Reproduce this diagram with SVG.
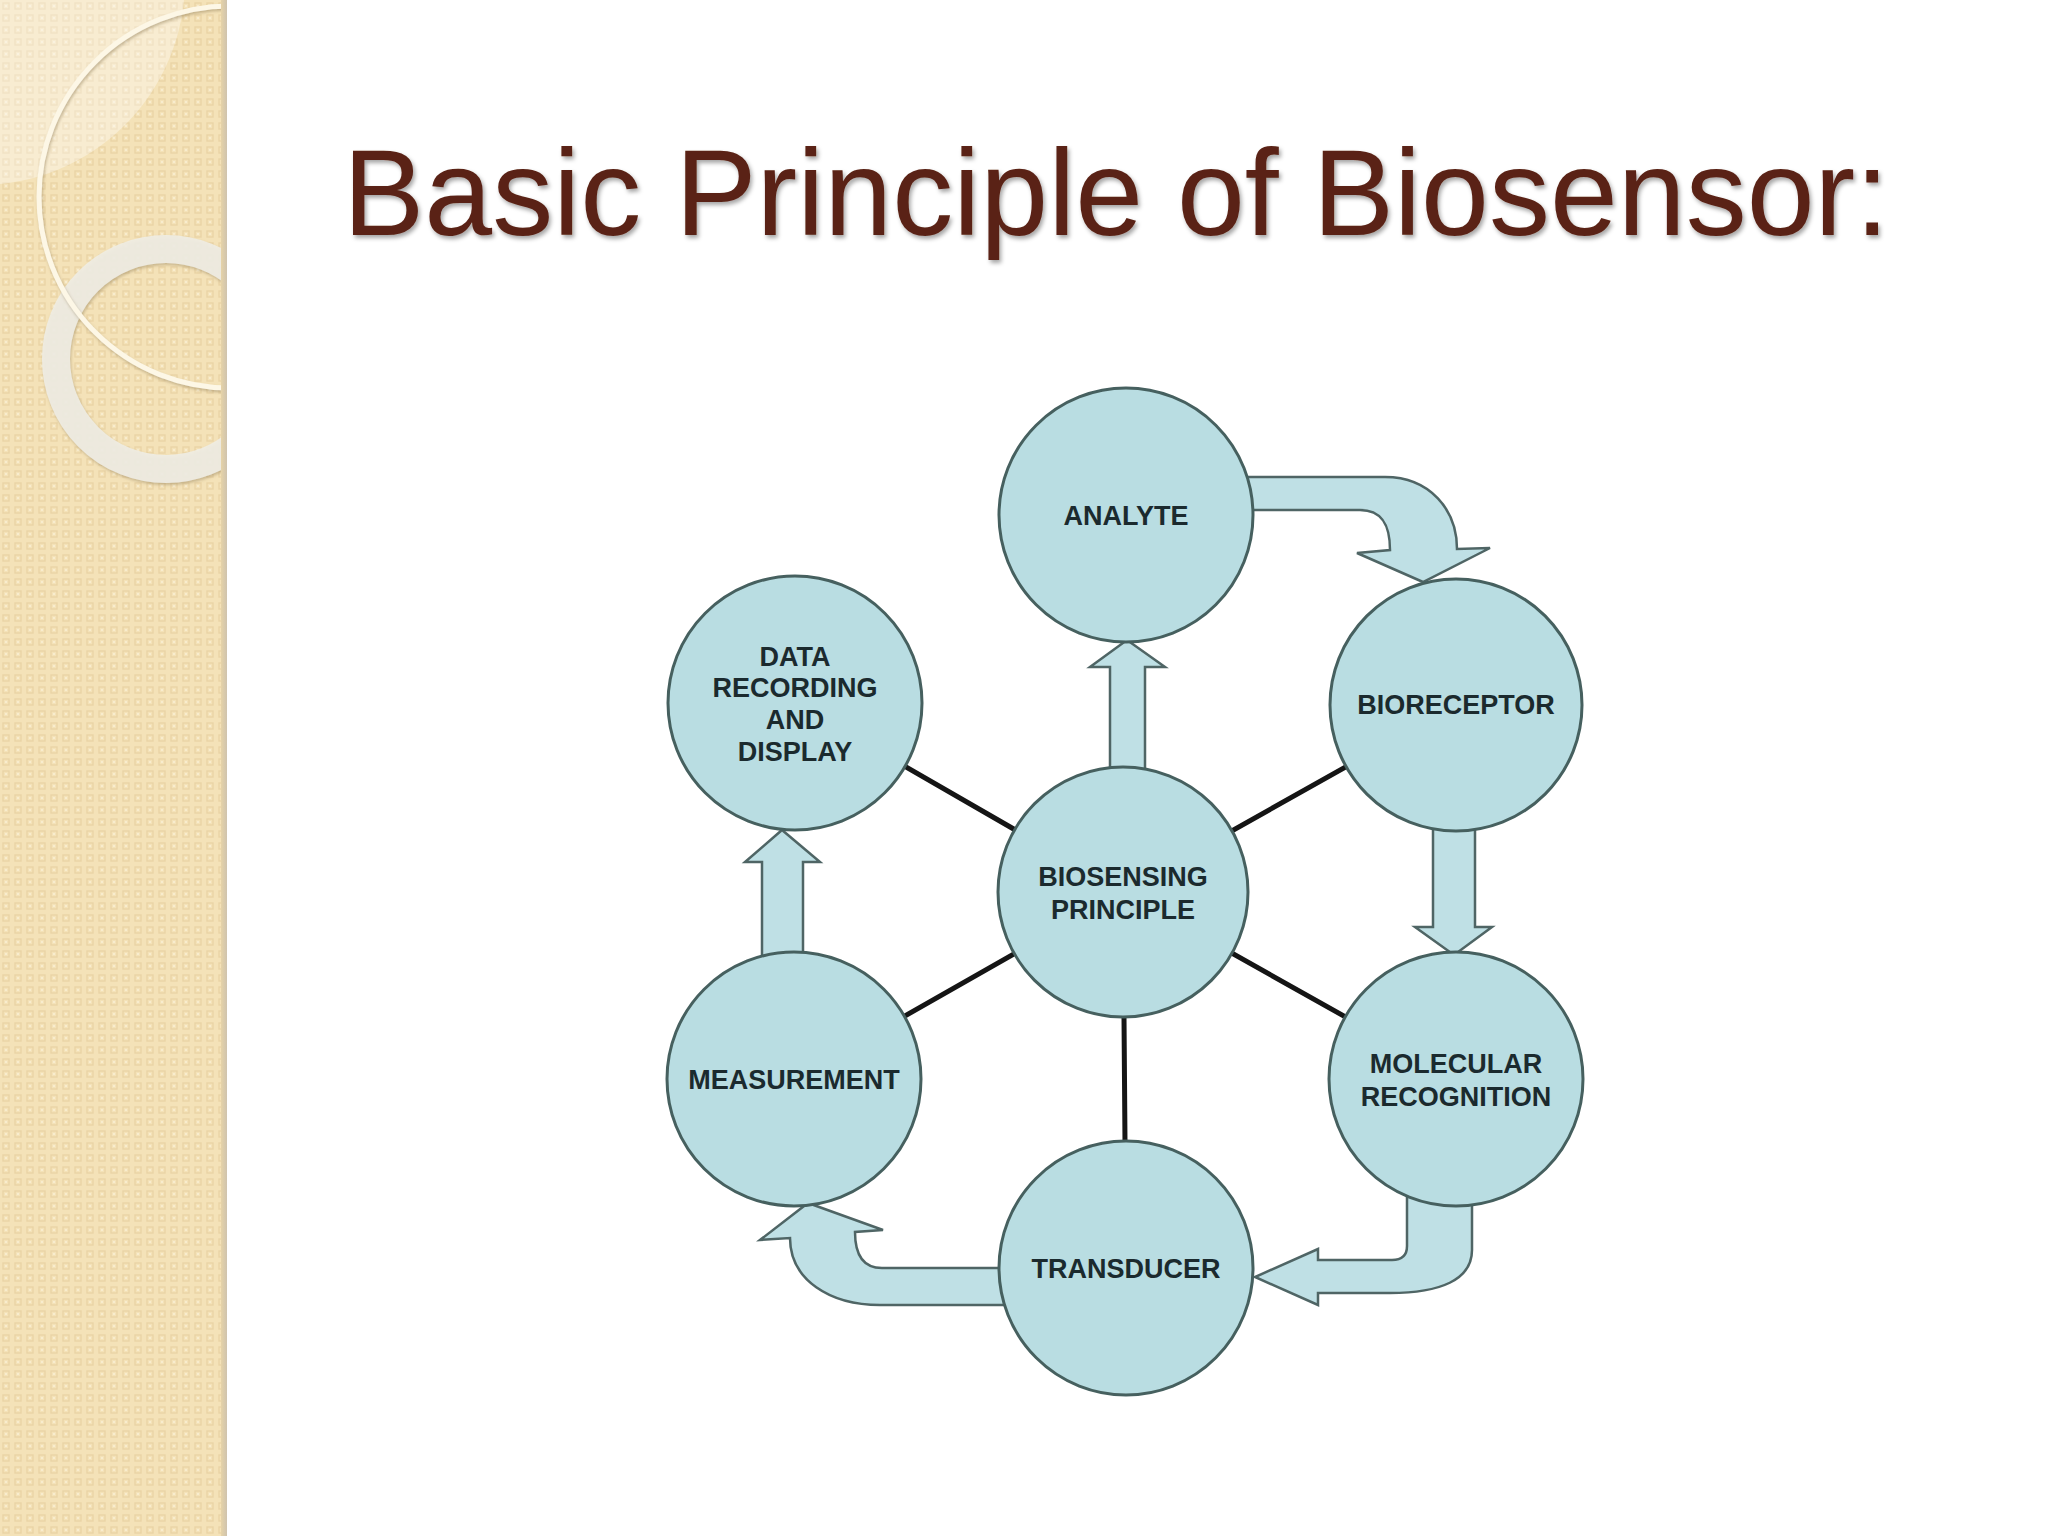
<svg xmlns="http://www.w3.org/2000/svg" width="2048" height="1536" viewBox="0 0 2048 1536">
<defs>
<style>
.node circle{fill:#b9dde2;stroke:#46605f;stroke-width:3}
.node text{font-family:"Liberation Sans",Arial,sans-serif;font-weight:bold;font-size:27px;fill:#1b2a2e;text-anchor:middle}
.spoke{stroke:#151515;stroke-width:5;stroke-linecap:round}
.arrow{fill:#bfe0e5;stroke:#4f6565;stroke-width:2.5;stroke-linejoin:miter}
.title{font-family:"Liberation Sans",Arial,sans-serif;font-size:122px;fill:#5a2416}
</style>
<pattern id="dots" width="12" height="12" patternUnits="userSpaceOnUse">
<rect width="12" height="12" fill="#f4e2b8"/>
<rect x="3" y="3" width="6" height="6" fill="none" stroke="#eAd4a6" stroke-width="1.4"/>
<rect x="5" y="5" width="2" height="2" fill="#f8ecce"/>
</pattern>
<clipPath id="side"><rect x="0" y="0" width="225" height="1536"/></clipPath>
<linearGradient id="edge" x1="0" x2="1" y1="0" y2="0">
<stop offset="0" stop-color="#e6d3a8"/>
<stop offset="1" stop-color="#cfc3ad"/>
</linearGradient>
<filter id="shadow" x="-5%" y="-20%" width="110%" height="150%">
<feDropShadow dx="2" dy="3" stdDeviation="2" flood-color="#000" flood-opacity="0.35"/>
</filter>
<filter id="soft" x="-10%" y="-10%" width="120%" height="120%">
<feDropShadow dx="1" dy="2" stdDeviation="1.5" flood-color="#8a7750" flood-opacity="0.45"/>
</filter>
</defs>
<rect width="2048" height="1536" fill="#ffffff"/>
<g id="sidebar">
<rect x="0" y="0" width="226" height="1536" fill="url(#dots)"/>
<g clip-path="url(#side)">
<circle cx="-20" cy="-20" r="205" fill="#ffffff" fill-opacity="0.35"/>
<circle cx="166" cy="359" r="110" fill="none" stroke="#f0ede4" stroke-opacity="0.9" stroke-width="28" filter="url(#soft)"/>
<circle cx="230" cy="197" r="191" fill="none" stroke="#fdf7e6" stroke-width="5" filter="url(#soft)"/>
</g>
<rect x="221" y="0" width="6" height="1536" fill="url(#edge)"/>
</g>
<g id="title">
<text class="title" x="343" y="235" filter="url(#shadow)">Basic Principle of Biosensor:</text>
</g>
<g id="connectors">
<line class="spoke" x1="1123" y1="892" x2="795" y2="703"/>
<line class="spoke" x1="1123" y1="892" x2="1456" y2="705"/>
<line class="spoke" x1="1123" y1="892" x2="794" y2="1079"/>
<line class="spoke" x1="1123" y1="892" x2="1456" y2="1079"/>
<line class="spoke" x1="1123" y1="892" x2="1126" y2="1268"/>
<path class="arrow" d="M1110,772 L1110,667 L1090,667 L1127,640 L1165,667 L1145,667 L1145,772 Z"/>
<path class="arrow" d="M1240,477 L1385,477 C1430,477 1457,510 1457,549 L1490,548 L1423,582 L1357,553 L1390,550 C1390,525 1382,510 1360,510 L1240,510 Z"/>
<path class="arrow" d="M1433,825 L1433,927 L1415,927 L1454,955 L1492,927 L1475,927 L1475,825 Z"/>
<path class="arrow" d="M1407,1188 L1407,1246 C1407,1255 1402,1260 1392,1260 L1318,1260 L1318,1249 L1255,1277 L1318,1305 L1318,1293 L1390,1293 C1440,1293 1472,1280 1472,1250 L1472,1188 Z"/>
<path class="arrow" d="M1012,1268 L882,1268 C863,1268 855,1255 855,1232 L883,1230 L808,1203 L760,1240 L790,1238 C790,1280 830,1305 880,1305 L1012,1305 Z"/>
<path class="arrow" d="M762,960 L762,862 L745,862 L782,830 L820,862 L803,862 L803,960 Z"/>
</g>
<g id="node-analyte" class="node">
<circle cx="1126" cy="515" r="127"/>
<text x="1126" y="525">ANALYTE</text>
</g>
<g id="node-bioreceptor" class="node">
<circle cx="1456" cy="705" r="126"/>
<text x="1456" y="714">BIORECEPTOR</text>
</g>
<g id="node-data" class="node">
<circle cx="795" cy="703" r="127"/>
<text x="795" y="666">DATA</text>
<text x="795" y="697">RECORDING</text>
<text x="795" y="729">AND</text>
<text x="795" y="761">DISPLAY</text>
</g>
<g id="node-biosensing" class="node">
<circle cx="1123" cy="892" r="125"/>
<text x="1123" y="886">BIOSENSING</text>
<text x="1123" y="919">PRINCIPLE</text>
</g>
<g id="node-measurement" class="node">
<circle cx="794" cy="1079" r="127"/>
<text x="794" y="1089">MEASUREMENT</text>
</g>
<g id="node-molecular" class="node">
<circle cx="1456" cy="1079" r="127"/>
<text x="1456" y="1073">MOLECULAR</text>
<text x="1456" y="1106">RECOGNITION</text>
</g>
<g id="node-transducer" class="node">
<circle cx="1126" cy="1268" r="127"/>
<text x="1126" y="1278">TRANSDUCER</text>
</g>
</svg>
